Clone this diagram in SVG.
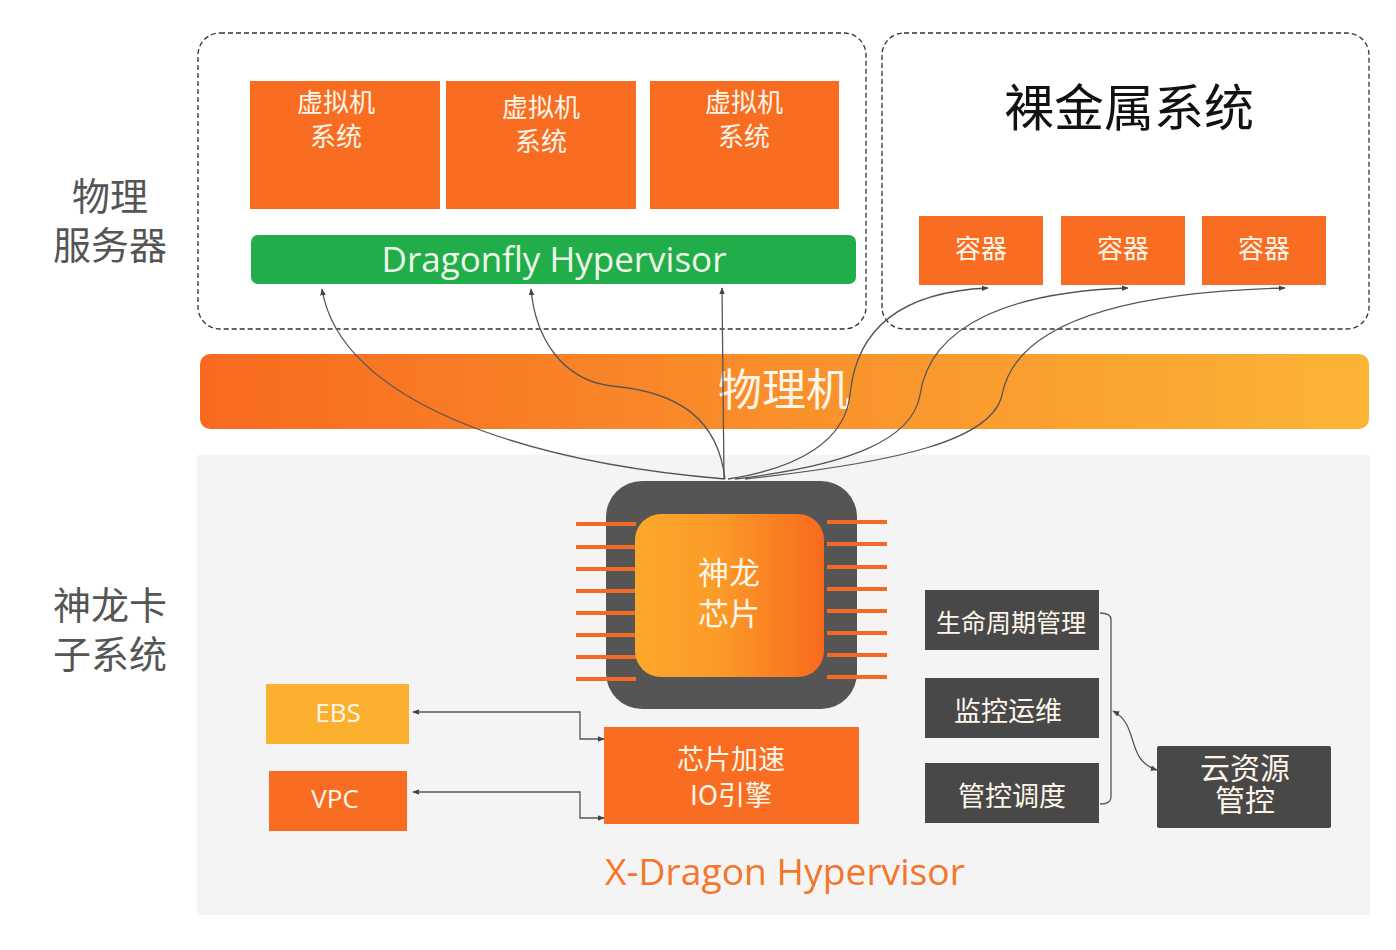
<svg xmlns="http://www.w3.org/2000/svg" width="1396" height="950" viewBox="0 0 1396 950">
<style>
.cjk{font-family:"Noto Sans CJK SC","Noto Sans",sans-serif;}
.lat{font-family:"Open Sans","Noto Sans",sans-serif;}
.wt{fill:#fff6ea;text-anchor:middle;}
.org{fill:#f86d22;}
.dk{fill:#484848;}
.dash{fill:none;stroke:#333;stroke-width:1.3;stroke-dasharray:5 3;}
.conn{fill:none;stroke:#555;stroke-width:1.3;}
.pin{stroke:#f36a25;stroke-width:4;}
.side{fill:#555;font-size:38px;text-anchor:middle;}
</style>
<defs>
<marker id="arr" viewBox="0 0 10 10" refX="9" refY="5" markerWidth="7" markerHeight="7" orient="auto-start-reverse" markerUnits="userSpaceOnUse">
<path d="M0,1 L10,5 L0,9 z" fill="#444"/>
</marker>
<linearGradient id="gPhys" x1="0" y1="0" x2="1" y2="0">
<stop offset="0" stop-color="#f86a20"/>
<stop offset="1" stop-color="#fbb536"/>
</linearGradient>
<linearGradient id="gChip" x1="0" y1="0" x2="1" y2="0">
<stop offset="0" stop-color="#fda82b"/>
<stop offset="0.45" stop-color="#fb9a28"/>
<stop offset="1" stop-color="#f86a1e"/>
</linearGradient>
</defs>
<rect width="1396" height="950" fill="#ffffff"/>
<rect x="197" y="455" width="1173" height="460" fill="#f4f4f4"/>

<g id="labels-left">
<text class="cjk side" x="110" y="210">物理</text>
<text class="cjk side" x="110" y="259">服务器</text>
<text class="cjk side" x="110" y="619">神龙卡</text>
<text class="cjk side" x="110" y="668">子系统</text>
</g>

<g id="physical-server">
<rect class="dash" x="198" y="33" width="668" height="296" rx="22"/>
</g>
<g id="vm1"><rect class="org" x="250" y="81" width="190" height="128"/>
<text class="cjk wt" font-size="26" x="336" y="112">虚拟机</text><text class="cjk wt" font-size="26" x="336" y="146">系统</text></g>
<g id="vm2"><rect class="org" x="446" y="81" width="190" height="128"/>
<text class="cjk wt" font-size="26" x="541" y="117">虚拟机</text><text class="cjk wt" font-size="26" x="541" y="151">系统</text></g>
<g id="vm3"><rect class="org" x="650" y="81" width="189" height="128"/>
<text class="cjk wt" font-size="26" x="744" y="112">虚拟机</text><text class="cjk wt" font-size="26" x="744" y="146">系统</text></g>
<g id="dragonfly"><rect x="251" y="235" width="605" height="49" rx="7" fill="#22ad4b"/>
<text class="lat" font-size="35" fill="#eef8e6" text-anchor="middle" x="554" y="272">Dragonfly Hypervisor</text></g>

<g id="bare-metal">
<rect class="dash" x="882" y="33" width="487" height="296" rx="22"/>
<text class="cjk" font-size="50" fill="#111" text-anchor="middle" x="1129" y="126">裸金属系统</text>
</g>
<g id="c1"><rect class="org" x="919" y="216" width="124" height="69"/><text class="cjk wt" font-size="26" x="981" y="258">容器</text></g>
<g id="c2"><rect class="org" x="1061" y="216" width="124" height="69"/><text class="cjk wt" font-size="26" x="1123" y="258">容器</text></g>
<g id="c3"><rect class="org" x="1202" y="216" width="124" height="69"/><text class="cjk wt" font-size="26" x="1264" y="258">容器</text></g>

<g id="physical-machine">
<rect x="200" y="354" width="1169" height="75" rx="10" fill="url(#gPhys)"/>
<text class="cjk wt" font-size="44" x="784" y="406">物理机</text>
</g>

<g id="chip">
<rect x="606" y="481" width="251" height="228" rx="36" fill="#555"/>
<line class="pin" x1="576" y1="524" x2="636" y2="524"/>
<line class="pin" x1="576" y1="547" x2="636" y2="547"/>
<line class="pin" x1="576" y1="569" x2="636" y2="569"/>
<line class="pin" x1="576" y1="591" x2="636" y2="591"/>
<line class="pin" x1="576" y1="613" x2="636" y2="613"/>
<line class="pin" x1="576" y1="635" x2="636" y2="635"/>
<line class="pin" x1="576" y1="657" x2="636" y2="657"/>
<line class="pin" x1="576" y1="679" x2="636" y2="679"/>
<line class="pin" x1="827" y1="522" x2="887" y2="522"/>
<line class="pin" x1="827" y1="544" x2="887" y2="544"/>
<line class="pin" x1="827" y1="567" x2="887" y2="567"/>
<line class="pin" x1="827" y1="589" x2="887" y2="589"/>
<line class="pin" x1="827" y1="611" x2="887" y2="611"/>
<line class="pin" x1="827" y1="633" x2="887" y2="633"/>
<line class="pin" x1="827" y1="655" x2="887" y2="655"/>
<line class="pin" x1="827" y1="677" x2="887" y2="677"/>
<rect x="635" y="514" width="189" height="163" rx="26" fill="url(#gChip)"/>
<text class="cjk wt" font-size="31" x="729" y="584">神龙</text>
<text class="cjk wt" font-size="31" x="729" y="625">芯片</text>
</g>

<g id="ebs"><rect x="266" y="684" width="143" height="60" fill="#fbb02f"/><text class="lat wt" font-size="26" x="338" y="722">EBS</text></g>
<g id="vpc"><rect class="org" x="269" y="771" width="138" height="60"/><text class="lat wt" font-size="26" x="335" y="808">VPC</text></g>
<g id="io-engine"><rect class="org" x="604" y="727" width="255" height="97"/>
<text class="cjk wt" font-size="27" x="731" y="769">芯片加速</text>
<text class="cjk wt" font-size="27" x="731" y="805">IO引擎</text></g>

<g id="lifecycle"><rect class="dk" x="925" y="590" width="174" height="60"/><text class="cjk wt" font-size="25" x="1011" y="632">生命周期管理</text></g>
<g id="monitor"><rect class="dk" x="925" y="678" width="174" height="60"/><text class="cjk wt" font-size="27" x="1008" y="721">监控运维</text></g>
<g id="schedule"><rect class="dk" x="925" y="763" width="174" height="60"/><text class="cjk wt" font-size="27" x="1012" y="806">管控调度</text></g>
<g id="cloud"><rect class="dk" x="1157" y="746" width="174" height="82" rx="2"/>
<text class="cjk wt" font-size="30" x="1245" y="779">云资源</text>
<text class="cjk wt" font-size="30" x="1245" y="811">管控</text></g>

<g id="x-dragon"><text class="lat" font-size="36" fill="#f4762a" text-anchor="middle" x="785" y="885" textLength="360" lengthAdjust="spacingAndGlyphs">X-Dragon Hypervisor</text></g>

<g id="connectors">
<path class="conn" marker-end="url(#arr)" d="M725,479 C520,462 340,400 322,289"/>
<path class="conn" marker-end="url(#arr)" d="M725,479 C718,420 680,392 612,386 C560,380 535,335 531,289"/>
<path class="conn" marker-end="url(#arr)" d="M724,479 L722,288"/>
<path class="conn" marker-end="url(#arr)" d="M728,479 C800,468 845,440 850,395 C856,330 900,292 988,288"/>
<path class="conn" marker-end="url(#arr)" d="M735,479 C850,465 912,440 920,395 C930,325 1010,292 1128,288"/>
<path class="conn" marker-end="url(#arr)" d="M745,479 C900,462 992,440 1002,395 C1016,320 1130,292 1285,288"/>
<path class="conn" marker-start="url(#arr)" marker-end="url(#arr)" d="M413,712 L580,712 L580,739 L604,739"/>
<path class="conn" marker-start="url(#arr)" marker-end="url(#arr)" d="M413,792 L580,792 L580,818 L604,818"/>
<path class="conn" d="M1100,613 Q1111,613 1111,620 L1111,797 Q1111,804 1100,804"/>
<path class="conn" marker-start="url(#arr)" marker-end="url(#arr)" d="M1113,711 C1140,725 1125,760 1157,770"/>
</g>
</svg>
